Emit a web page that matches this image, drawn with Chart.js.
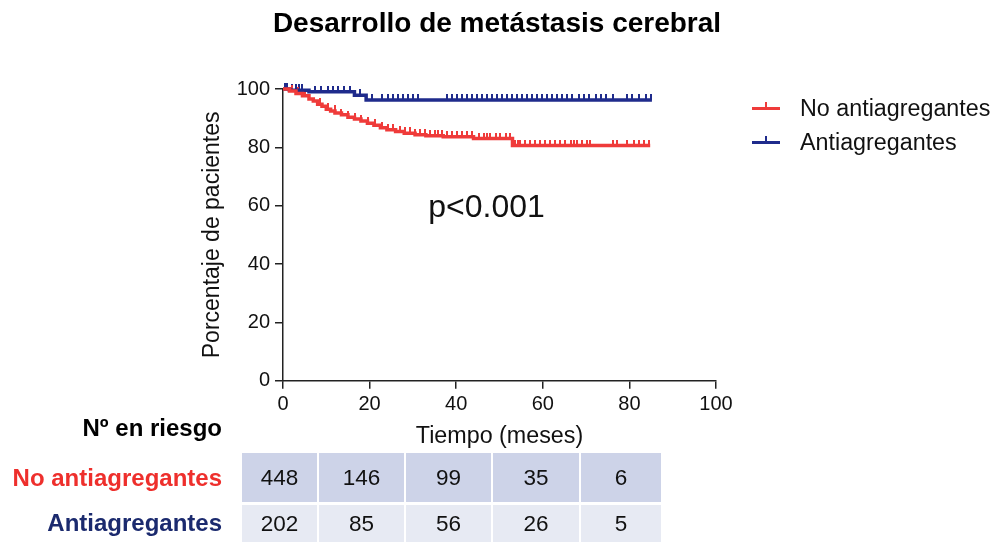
<!DOCTYPE html>
<html>
<head>
<meta charset="utf-8">
<script src="https://cdn.jsdelivr.net/npm/chart.js@4.4.0/dist/chart.umd.min.js"></script>
<style>
  html, body { margin: 0; padding: 0; background: #fff; }
  #wrap { position: relative; width: 994px; height: 542px; overflow: hidden;
          font-family: "Liberation Sans", Arial, Helvetica, sans-serif; }
  #chart { position: absolute; left: 0; top: 0; }
  .title { position: absolute; left: 197px; width: 600px; top: 6px; height: 34px; line-height: 34px;
           text-align: center; font-size: 28px; font-weight: bold; color: #000; white-space: nowrap; }
  .leg { position: absolute; left: 752px; font-size: 23.3px; color: #111; white-space: nowrap;
         height: 26px; line-height: 26px; }
  .leg .sym { position: absolute; left: 0; top: 12px; width: 28px; height: 3px; }
  .leg .sym i { position: absolute; left: 13px; top: -5px; width: 2px; height: 6px; }
  .leg span.txt { position: absolute; left: 48px; top: 0; }
  .rowlab { position: absolute; right: 772px; font-size: 24px; font-weight: bold; white-space: nowrap;
            height: 28px; line-height: 28px; }
  .cell { position: absolute; font-size: 22.5px; color: #111; text-align: center; }
</style>
</head>
<body>
<div id="wrap">
  <canvas id="chart" width="994" height="542"></canvas>
</div>
<script>
// Kaplan-Meier curves: time (months) of each step and survival (%) from that time on
const chartTitle = 'Desarrollo de metástasis cerebral';
const seriesNames = ['No antiagregantes', 'Antiagregantes'];
const seriesColors = ['#ef3b3a', '#1f2b8c'];

const redTimes = [0, 1.5, 3, 4.5, 6, 7, 8, 9, 10, 11, 12, 13.5, 15, 16.5, 18, 19.5, 21, 22.5, 24, 26, 28, 30.5, 33, 37, 44, 53];
const redSurv  = [100, 99.3, 98.5, 97.7, 96.6, 95.9, 94.8, 94.1, 93.1, 92.5, 91.8, 91.2, 90.3, 89.7, 89.0, 88.3, 87.6, 86.7, 86.0, 85.4, 84.8, 84.3, 84.0, 83.6, 83.0, 80.6];
const redEnd = 84.8;

const blueTimes = [0, 1.5, 6, 16.5, 19.2];
const blueSurv  = [100, 99.6, 99.1, 97.9, 96.2];
const blueEnd = 85.2;

// censored observations (months)
const redCensored = [2, 3.5, 5, 8.5, 10.4, 11.9, 13.5, 15, 16.6, 18.1, 19.6, 21.2, 22.8, 24.3, 25.5, 27, 28.2, 29.3,
  30.5, 31.6, 32.8, 34, 35.1, 35.9, 36.7, 37.8, 39, 40.1, 41.3, 42.4, 43.6, 45.2, 46.4, 47.1, 47.9, 49.1, 50.2,
  51.4, 52.5, 53.6, 54.3, 54.8, 56, 57.1, 58.3, 59.4, 60.6, 61.7, 62.9, 64, 65.2, 66.4, 67.2, 68, 69.1, 70.3, 71,
  76.1, 77.2, 79.4, 81.1, 82.2, 83.4, 84.5];
const blueCensored = [0.5, 1, 2, 3, 3.8, 4.5, 7.3, 8.8, 10.4, 11.5, 12.7, 14.2, 15.4, 17.7, 20.5, 22.8, 24.3, 25.5,
  26.6, 27.8, 28.9, 30.1, 31.2, 37.8, 39.0, 40.1, 41.3, 42.4, 43.6, 44.8, 46, 47.1, 48.3, 49.4, 50.6, 51.7, 52.9,
  54, 55.2, 56.3, 57.5, 58.6, 59.8, 61, 62.1, 63.3, 64.4, 65.6, 66.7, 68.4, 69.5, 70.7, 72.2, 73.4, 74.5, 76.1,
  79.5, 80.7, 82.2, 83.8, 85];

// axis ticks
const xTicks = [0, 20, 40, 60, 80, 100];
const yTicks = [0, 20, 40, 60, 80, 100];

// number at risk table
const riskHeader = 'Nº en riesgo';
const atRiskNo = [448, 146, 99, 35, 6];
const atRiskAnti = [202, 85, 56, 26, 5];

const pValueText = 'p<0.001';

// ---- helpers ----
function stepPoints(times, surv, end) {
  const pts = times.map((t, i) => ({ x: t, y: surv[i] }));
  pts.push({ x: end, y: surv[surv.length - 1] });
  return pts;
}
function survivalAt(times, surv, t) {
  let v = surv[0];
  for (let i = 0; i < times.length; i++) if (times[i] <= t) v = surv[i];
  return v;
}
function censorPoints(cens, times, surv) {
  return cens.map(t => ({ x: t, y: survivalAt(times, surv, t) }));
}
// short upward tick used as the censor mark
function tickGlyph(color) {
  const c = document.createElement('canvas');
  c.width = 2; c.height = 12;
  const g = c.getContext('2d');
  g.fillStyle = color;
  g.fillRect(0, 0, 2, 6);
  return c;
}

const FONT = '"Liberation Sans", Arial, Helvetica, sans-serif';

const pLabelPlugin = {
  id: 'pLabel',
  afterDatasetsDraw(chart) {
    const { ctx, scales } = chart;
    ctx.save();
    ctx.font = '32px ' + FONT;
    ctx.fillStyle = '#111';
    ctx.textAlign = 'center';
    ctx.textBaseline = 'middle';
    ctx.fillText(pValueText, scales.x.getPixelForValue(47), scales.y.getPixelForValue(59));
    ctx.restore();
  }
};

const ctx = document.getElementById('chart').getContext('2d');
new Chart(ctx, {
  type: 'line',
  data: {
    datasets: [
      { label: seriesNames[0], data: stepPoints(redTimes, redSurv, redEnd), stepped: true,
        borderColor: seriesColors[0], borderWidth: 3.5, pointRadius: 0, fill: false, clip: false },
      { label: seriesNames[1], data: stepPoints(blueTimes, blueSurv, blueEnd), stepped: true,
        borderColor: seriesColors[1], borderWidth: 3.5, pointRadius: 0, fill: false, clip: false },
      { label: seriesNames[0] + ' (censurados)', data: censorPoints(redCensored, redTimes, redSurv),
        showLine: false, pointStyle: tickGlyph(seriesColors[0]), pointRadius: 4, clip: false },
      { label: seriesNames[1] + ' (censurados)', data: censorPoints(blueCensored, blueTimes, blueSurv),
        showLine: false, pointStyle: tickGlyph(seriesColors[1]), pointRadius: 4, clip: false }
    ]
  },
  options: {
    responsive: false,
    animation: false,
    events: [],
    layout: { padding: { left: 190, right: 278, top: 89, bottom: 91.3 } },
    plugins: {
      legend: { display: false },
      tooltip: { enabled: false },
      title: { display: false }
    },
    scales: {
      x: {
        type: 'linear', min: 0, max: 100,
        afterBuildTicks(scale) { scale.ticks = xTicks.map(v => ({ value: v })); },
        afterFit(scale) { scale.height = 70; },
        grid: { drawOnChartArea: false, drawTicks: true, tickLength: 8, color: '#222', lineWidth: 1.5 },
        border: { display: true, color: '#222', width: 1.5 },
        ticks: { color: '#111', font: { family: FONT, size: 20 }, padding: 4, maxRotation: 0 },
        title: { display: true, text: 'Tiempo (meses)', color: '#111',
                 font: { family: FONT, size: 23.3 }, padding: { top: 0, bottom: 0 } }
      },
      y: {
        type: 'linear', min: 0, max: 100,
        afterBuildTicks(scale) { scale.ticks = yTicks.map(v => ({ value: v })); },
        afterFit(scale) { scale.width = 93; },
        grid: { drawOnChartArea: false, drawTicks: true, tickLength: 8, color: '#222', lineWidth: 1.5 },
        border: { display: true, color: '#222', width: 1.5 },
        ticks: { color: '#111', font: { family: FONT, size: 20 }, padding: 5 },
        title: { display: true, text: 'Porcentaje de pacientes', color: '#111',
                 font: { family: FONT, size: 23 }, padding: { top: 9.2, bottom: 0 } }
      }
    }
  },
  plugins: [pLabelPlugin]
});

const wrap = document.getElementById('wrap');

// ---- title ----
const t = document.createElement('div');
t.className = 'title';
t.textContent = chartTitle;
wrap.appendChild(t);

// ---- legend ----
const legendTops = [95, 129];
seriesNames.forEach((name, i) => {
  const d = document.createElement('div');
  d.className = 'leg';
  d.style.top = legendTops[i] + 'px';
  d.innerHTML = '<div class="sym" style="background:' + seriesColors[i] + '"><i style="background:' +
    seriesColors[i] + '"></i></div><span class="txt"></span>';
  d.querySelector('.txt').textContent = name;
  wrap.appendChild(d);
});

// ---- number at risk table ----
const labelColors = ['#ee2f2c', '#1b2a6e'];
const head = document.createElement('div');
head.className = 'rowlab';
head.style.top = '414px';
head.style.color = '#000';
head.textContent = riskHeader;
wrap.appendChild(head);

const colEdges = [242, 319, 406, 493, 581, 663];
const rowTops = [453, 505];
const rowHeights = [49, 40];
const rowBgs = ['#cdd3e8', '#e7eaf3'];
[atRiskNo, atRiskAnti].forEach((vals, r) => {
  const lab = document.createElement('div');
  lab.className = 'rowlab';
  lab.style.top = (r === 0 ? 464 : 509) + 'px';
  lab.style.color = labelColors[r];
  lab.textContent = seriesNames[r];
  wrap.appendChild(lab);
  vals.forEach((v, c) => {
    const cell = document.createElement('div');
    cell.className = 'cell';
    cell.style.left = colEdges[c] + 'px';
    cell.style.width = (colEdges[c + 1] - colEdges[c] - 2) + 'px';
    cell.style.top = rowTops[r] + 'px';
    cell.style.height = rowHeights[r] + 'px';
    cell.style.lineHeight = (r === 0 ? 50 : 37) + 'px';
    cell.style.background = rowBgs[r];
    cell.textContent = v;
    wrap.appendChild(cell);
  });
});
</script>
</body>
</html>
